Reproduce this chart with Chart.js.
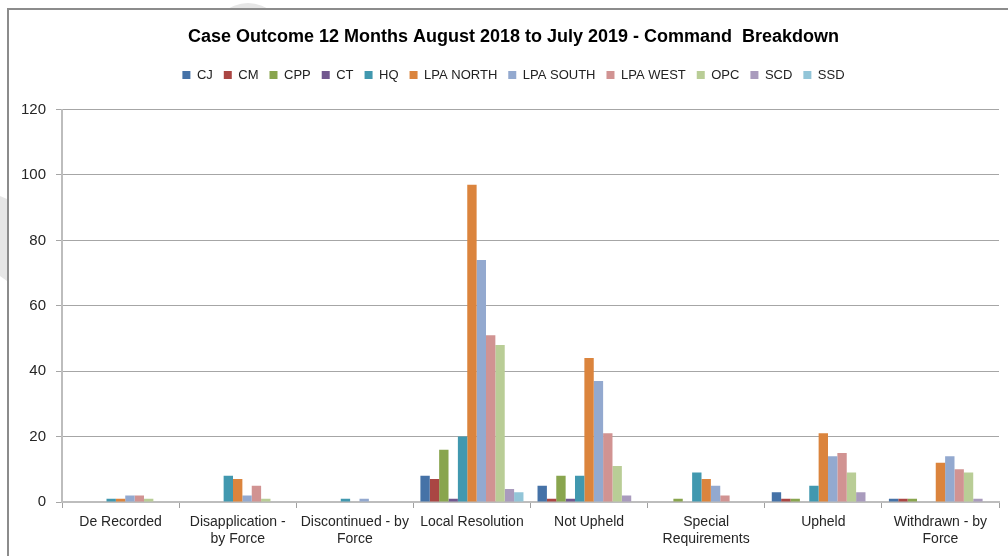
<!DOCTYPE html>
<html>
<head>
<meta charset="utf-8">
<script src="https://cdn.jsdelivr.net/npm/chart.js@4/dist/chart.umd.min.js"></script>
<style>
html,body{margin:0;padding:0;background:#fff;}
#wrap{width:1008px;height:556px;position:relative;}
</style>
</head>
<body>
<div id="wrap"><canvas id="c" width="1008" height="556"></canvas></div>
<script>
const categories = [
  "De Recorded",
  ["Disapplication -", "by Force"],
  ["Discontinued - by", "Force"],
  "Local Resolution",
  "Not Upheld",
  ["Special", "Requirements"],
  "Upheld",
  ["Withdrawn - by", "Force"]
];
const seriesNames = ["CJ","CM","CPP","CT","HQ","LPA NORTH","LPA SOUTH","LPA WEST","OPC","SCD","SSD"];
const CJ        = [0,0,0, 8, 5,0, 3, 1];
const CM        = [0,0,0, 7, 1,0, 1, 1];
const CPP       = [0,0,0,16, 8,1, 1, 1];
const CT        = [0,0,0, 1, 1,0, 0, 0];
const HQ        = [1,8,1,20, 8,9, 5, 0];
const LPA_NORTH = [1,7,0,97,44,7,21,12];
const LPA_SOUTH = [2,2,1,74,37,5,14,14];
const LPA_WEST  = [2,5,0,51,21,2,15,10];
const OPC       = [1,1,0,48,11,0, 9, 9];
const SCD       = [0,0,0, 4, 2,0, 3, 1];
const SSD       = [0,0,0, 3, 0,0, 0, 0];
const yTicks = [0,20,40,60,80,100,120];

const seriesValues = [CJ,CM,CPP,CT,HQ,LPA_NORTH,LPA_SOUTH,LPA_WEST,OPC,SCD,SSD];
const colors = ["#4572A7","#AA4643","#89A54E","#71588F","#4198AF","#DB843D","#93A9CF","#D19392","#B9CD96","#A99BBD","#92C5D8"];

const FONT = "'Liberation Sans', Arial, sans-serif";

const frame = {
  id: 'frame',
  afterLayout(chart) {
    // let the y tick labels extend into the left padding without clipping
    chart.scales.y.left = 0;
  },
  beforeDraw(chart) {
    const ctx = chart.ctx;
    ctx.save();
    ctx.fillStyle = '#fff';
    ctx.fillRect(0,0,chart.width,chart.height);
    ctx.fillStyle = '#e6e6e6';
    ctx.beginPath();
    ctx.rect(0,0,chart.width,9);
    ctx.clip();
    ctx.beginPath();
    ctx.ellipse(248, 38, 36, 35, 0, 0, 2*Math.PI);
    ctx.fill();
    ctx.restore();
    ctx.save();
    ctx.fillStyle = '#e6e6e6';
    ctx.beginPath();
    ctx.moveTo(0,196); ctx.lineTo(7,199); ctx.lineTo(7,281); ctx.lineTo(0,276); ctx.closePath();
    ctx.fill();
    ctx.restore();
  },
  afterDraw(chart) {
    const ctx = chart.ctx;
    ctx.save();
    ctx.strokeStyle = '#8c8c8c';
    ctx.lineWidth = 2;
    ctx.strokeRect(8, 9, 1010, 560);
    ctx.restore();
  }
};

new Chart(document.getElementById('c'), {
  type: 'bar',
  data: {
    labels: categories,
    datasets: seriesNames.map((n,i) => ({
      label: n,
      data: seriesValues[i],
      backgroundColor: colors[i],
      borderWidth: 0,
      categoryPercentage: 0.88,
      barPercentage: 1.0
    }))
  },
  options: {
    responsive: false,
    animation: false,
    layout: { padding: { left: 28, right: 9, top: 0, bottom: 0 } },
    plugins: {
      title: {
        display: true,
        text: "Case Outcome 12 Months August 2018 to July 2019 - Command  Breakdown",
        color: '#000',
        font: { family: FONT, size: 18, weight: 'bold' },
        padding: { top: 26, bottom: 10 }
      },
      subtitle: {
        display: true,
        text: [],
        weight: 500,
        padding: { top: 18, bottom: 0 }
      },
      legend: {
        display: true,
        position: 'top',
        labels: {
          boxWidth: 8, boxHeight: 8,
          color: '#222',
          font: { family: FONT, size: 13 },
          padding: 11
        }
      },
      tooltip: { enabled: false }
    },
    scales: {
      x: {
        grid: { display: true, offset: true, drawOnChartArea: false, drawTicks: true, tickLength: 6, color: '#a0a0a0' },
        border: { display: true, color: '#bdbdbd', width: 2 },
        ticks: { color: '#262626', font: { family: FONT, size: 14 }, maxRotation: 0, minRotation: 0, autoSkip: false, padding: 6 },
        afterFit(s) { s.height = 54; }
      },
      y: {
        min: 0, max: 120,
        afterBuildTicks(s) { s.ticks = yTicks.map(v => ({ value: v })); },
        grid: { color: '#a6a6a6', lineWidth: 1, drawTicks: true, tickLength: 6 },
        border: { display: true, color: '#bdbdbd', width: 2 },
        ticks: { color: '#262626', font: { family: FONT, size: 15 }, padding: 10 },
        afterFit(s) { s.width = 34; }
      }
    }
  },
  plugins: [frame]
});
</script>
</body>
</html>
